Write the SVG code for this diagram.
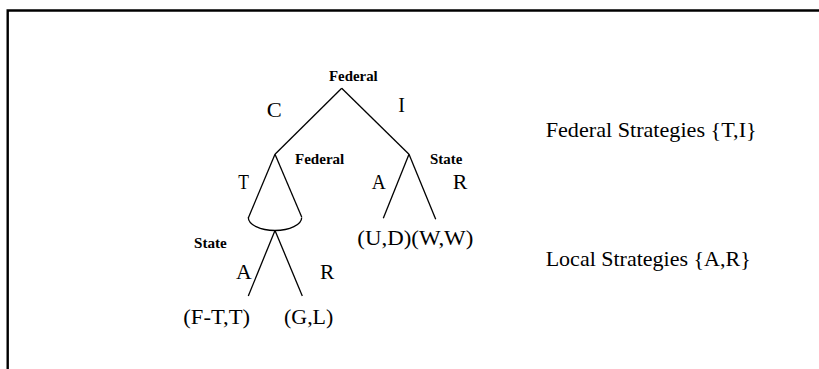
<svg xmlns="http://www.w3.org/2000/svg" width="819" height="369" viewBox="0 0 819 369">
<style>
.frame{fill:none;stroke:#000;stroke-width:2.4}
.edge{fill:none;stroke:#000;stroke-width:1.3}
.lbl{font-family:"Liberation Serif","Times New Roman",serif;font-size:22px;fill:#000}
.pl{font-family:"Liberation Serif","Times New Roman",serif;font-size:15px;font-weight:bold;fill:#000}
</style>
<rect width="819" height="369" fill="#fff"/>
<path class="frame" d="M7.7,369 V10.5 H819"/>
<g id="connectors">
<path class="edge" d="M341.7,88.3 L275,154.3"/>
<path class="edge" d="M341.7,88.3 L409,154.3"/>
<path class="edge" d="M275,154.3 L248.3,218"/>
<path class="edge" d="M275,154.3 L301.7,217"/>
<path class="edge" d="M248.3,217.5 A26.7,13 0 0 0 301.7,217.5"/>
<path class="edge" d="M275,230.5 L248.3,296"/>
<path class="edge" d="M275,230.5 L302.3,296"/>
<path class="edge" d="M409,154.3 L383.3,218.3"/>
<path class="edge" d="M409,154.3 L435.7,219.3"/>
</g>
<g id="root">
<text class="pl" x="329" y="80.7" textLength="48.7" lengthAdjust="spacingAndGlyphs">Federal</text>
</g>
<g id="edge-labels-top">
<text class="lbl" x="266.7" y="116.7" textLength="15" lengthAdjust="spacingAndGlyphs">C</text>
<text class="lbl" x="398.3" y="111.7" textLength="6.7" lengthAdjust="spacingAndGlyphs">I</text>
</g>
<g id="federal-node">
<text class="pl" x="295" y="164.3" textLength="49.3" lengthAdjust="spacingAndGlyphs">Federal</text>
<text class="lbl" x="238.3" y="189" textLength="10.7" lengthAdjust="spacingAndGlyphs">T</text>
</g>
<g id="state-node-right">
<text class="pl" x="430" y="164.3" textLength="32.3" lengthAdjust="spacingAndGlyphs">State</text>
<text class="lbl" x="371.7" y="189" textLength="14" lengthAdjust="spacingAndGlyphs">A</text>
<text class="lbl" x="452.7" y="189" textLength="14.6" lengthAdjust="spacingAndGlyphs">R</text>
<text class="lbl" x="357.3" y="245" textLength="116" lengthAdjust="spacingAndGlyphs">(U,D)(W,W)</text>
</g>
<g id="state-node-left">
<text class="pl" x="194" y="248.3" textLength="32.7" lengthAdjust="spacingAndGlyphs">State</text>
<text class="lbl" x="236" y="279.3" textLength="15.7" lengthAdjust="spacingAndGlyphs">A</text>
<text class="lbl" x="320" y="279.3" textLength="14.3" lengthAdjust="spacingAndGlyphs">R</text>
<text class="lbl" x="183.3" y="323.5" textLength="66.7" lengthAdjust="spacingAndGlyphs">(F-T,T)</text>
<text class="lbl" x="284" y="323.5" textLength="49.3" lengthAdjust="spacingAndGlyphs">(G,L)</text>
</g>
<g id="legend">
<text class="lbl" x="545.7" y="137" textLength="211" lengthAdjust="spacingAndGlyphs">Federal Strategies {T,I}</text>
<text class="lbl" x="545.7" y="266" textLength="205" lengthAdjust="spacingAndGlyphs">Local Strategies {A,R}</text>
</g>
</svg>
